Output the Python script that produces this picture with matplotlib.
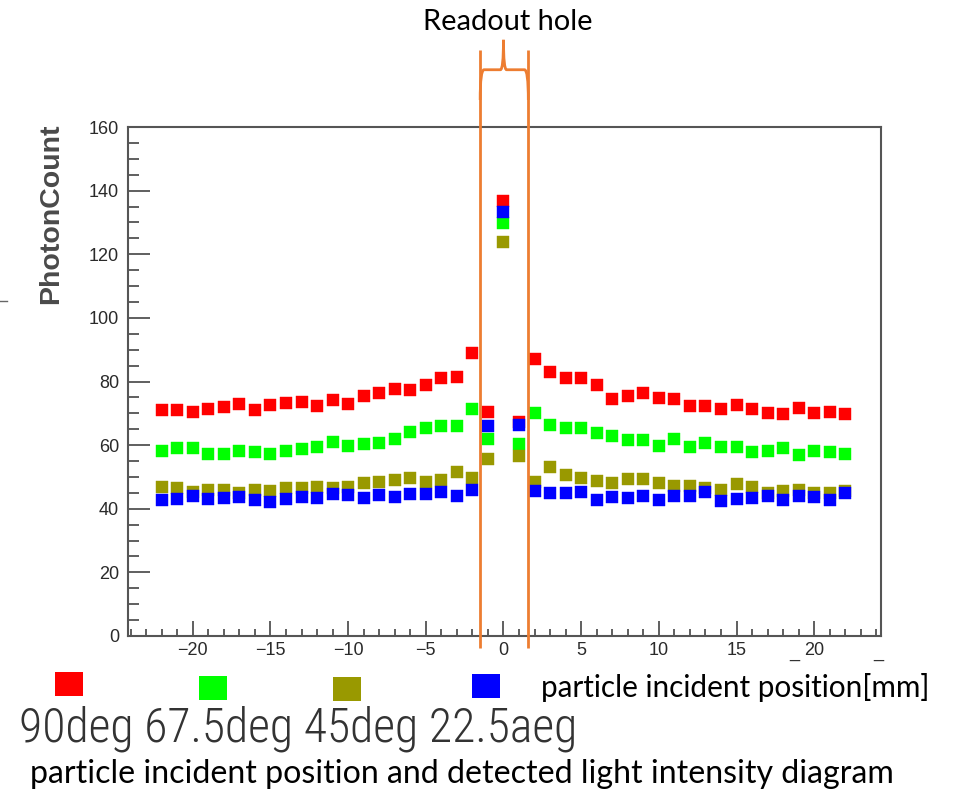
import matplotlib
matplotlib.use("Agg")
import matplotlib.pyplot as plt
from matplotlib import font_manager
from matplotlib.path import Path
from matplotlib.patches import PathPatch, Rectangle
from matplotlib.lines import Line2D
from matplotlib.ticker import MultipleLocator
from matplotlib.transforms import blended_transform_factory

# particle incident position [mm]
positions = list(range(-22, 23))

# PhotonCount for each incident angle
deg_90 = [71.0, 71.0, 70.5, 71.3, 72.1, 72.9, 71.0, 72.5, 73.1, 73.4, 72.3,
          74.2, 72.9, 75.3, 76.3, 77.6, 77.4, 78.8, 81.0, 81.3, 89.1,
          70.5, 136.7, 67.2,
          87.0, 83.1, 81.0, 81.2, 78.9, 74.4, 75.5, 76.3, 74.7, 74.4, 72.3,
          72.3, 71.3, 72.6, 71.3, 70.2, 69.8, 71.8, 70.0, 70.5, 69.7]
deg_67_5 = [58.3, 59.0, 59.0, 57.2, 57.2, 58.3, 57.8, 57.2, 58.0, 58.8, 59.5,
            61.1, 59.8, 60.4, 60.6, 61.9, 64.0, 65.3, 66.0, 66.0, 71.3,
            61.9, 129.8, 60.4,
            70.0, 66.4, 65.3, 65.3, 63.7, 62.9, 61.6, 61.6, 59.8, 61.9, 59.3,
            60.8, 59.3, 59.5, 57.8, 58.3, 59.0, 56.9, 58.3, 57.8, 57.2]
deg_45 = [46.9, 46.4, 45.3, 45.9, 45.9, 45.1, 45.9, 45.6, 46.4, 46.4, 46.9,
          46.4, 46.9, 48.0, 48.5, 49.1, 49.6, 48.5, 49.1, 51.7, 49.6,
          55.6, 123.7, 56.6,
          48.5, 53.0, 50.6, 49.6, 48.8, 48.0, 49.4, 49.4, 48.0, 47.2, 47.2,
          46.4, 45.9, 47.7, 46.9, 45.1, 45.6, 45.9, 45.1, 45.1, 45.6]
deg_22_5 = [42.8, 43.1, 44.0, 43.1, 43.3, 43.8, 42.8, 42.2, 43.1, 43.8, 43.3,
            44.7, 44.3, 43.3, 44.3, 43.6, 44.7, 44.7, 45.2, 44.0, 45.9,
            66.0, 133.4, 66.4,
            45.7, 45.1, 44.9, 45.4, 42.6, 43.6, 43.3, 44.1, 42.8, 44.1, 44.0,
            45.4, 42.5, 43.1, 43.3, 44.1, 42.8, 44.0, 43.8, 42.6, 44.9]

series = [deg_90, deg_67_5, deg_45, deg_22_5]
series_colors = ["#ff0000", "#00ff00", "#999900", "#0000ff"]
legend_text = "90deg 67.5deg 45deg 22.5aeg"

hole_edges = [-1.5, 1.6]
x_ticks = [-20, -15, -10, -5, 0, 5, 10, 15, 20]
y_ticks = [0, 20, 40, 60, 80, 100, 120, 140, 160]

W, H = 960, 797
names = {f.name for f in font_manager.fontManager.ttflist}


def pick(*cands):
    return next((c for c in cands if c in names), "DejaVu Sans")


sans = pick("Liberation Sans", "Arial")
calibri = pick("Lato", "Open Sans", "Noto Sans")
narrow = pick("Liberation Sans Narrow", "Roboto Condensed", "Liberation Sans")


def fx(px):
    return px / W


def fy(py):
    return 1 - py / H


fig = plt.figure(figsize=(W / 100, H / 100), dpi=100)
ax = fig.add_axes([fx(127.5), fy(636), (881 - 127.5) / W, (636 - 127) / H])

for vals, col in zip(series, series_colors):
    ax.plot(positions, vals, ls="none", marker="s", ms=8.6, mec=col, mfc=col,
            mew=0.3, zorder=3)

ax.set_xlim(-24.2, 24.3)
ax.set_ylim(0, 160)
ax.set_xticks(x_ticks)
ax.set_yticks(y_ticks)
ax.xaxis.set_minor_locator(MultipleLocator(1))
ax.yaxis.set_minor_locator(MultipleLocator(5))
ax.tick_params(axis="x", which="major", direction="in", length=10.8, width=1.2,
               color="#444444", pad=4, labelsize=13, labelcolor="#2a2a2a")
ax.tick_params(axis="x", which="minor", direction="in", length=5.4, width=1.2,
               color="#444444")
ax.tick_params(axis="y", which="major", direction="in", length=15.8, width=1.2,
               color="#444444", pad=6, labelsize=13, labelcolor="#2a2a2a")
ax.tick_params(axis="y", which="minor", direction="in", length=7.9, width=1.2,
               color="#444444")
for lab in ax.get_xticklabels() + ax.get_yticklabels():
    lab.set_family(sans)
for sp in ax.spines.values():
    sp.set_color("#555555")
    sp.set_linewidth(1.5)

# stray underscores near the x tick labels
xb = blended_transform_factory(ax.transData, ax.transAxes)
for xs in [18.7, 24.1]:
    ax.text(xs, -0.041, "_", transform=xb, ha="center", va="baseline",
            fontsize=13, color="#333333", family=sans)
fig.add_artist(Line2D([0, fx(7)], [fy(300.5), fy(300.5)],
                      transform=fig.transFigure, color="#666666", lw=1))

fig.text(fx(51), fy(123), "PhotonCount", rotation=90, ha="center", va="top",
         fontsize=20.5, weight="bold", color="#4a4a4a", family=sans)

# readout hole markers with a brace on top
orange = "#ed7d31"
for xe in hole_edges:
    ax.plot([xe, xe], [-3.8, 184.3], color=orange, lw=2, clip_on=False,
            zorder=4, solid_capstyle="butt")
xl, xr = hole_edges
xm = (xl + xr) / 2 - 0.05
yb, yc, yp = 168.5, 178.0, 187.4
verts = [(xl, yb), (xl, yc), (xl + 0.25, yc),
         (xm - 0.2, yc), (xm, yc), (xm, yp),
         (xm, yc), (xm + 0.2, yc),
         (xr - 0.25, yc), (xr, yc), (xr, yb)]
codes = [Path.MOVETO, Path.CURVE3, Path.CURVE3,
         Path.LINETO, Path.CURVE3, Path.CURVE3,
         Path.CURVE3, Path.CURVE3,
         Path.LINETO, Path.CURVE3, Path.CURVE3]
ax.add_patch(PathPatch(Path(verts, codes), fill=False, ec=orange, lw=2,
                       clip_on=False, zorder=4))

# legend squares
legend_boxes = [(69, 684), (213, 688), (347, 689), (486, 686)]
for (cx, cy), col in zip(legend_boxes, series_colors):
    fig.add_artist(Rectangle((fx(cx - 14), fy(cy + 12)), 28 / W, 24 / H,
                             transform=fig.transFigure, fc=col, ec="none"))

fig.canvas.draw()
renderer = fig.canvas.get_renderer()


def fit(t, width_px):
    w = t.get_window_extent(renderer).width
    t.set_fontsize(t.get_fontsize() * width_px / w)


t1 = fig.text(fx(508), fy(30), "Readout hole", ha="center", va="baseline",
              fontsize=20, family=calibri, color="black")
fit(t1, 170)
t2 = fig.text(fx(541), fy(697), "particle incident position[mm]", ha="left",
              va="baseline", fontsize=20, family=calibri, color="black")
fit(t2, 390)
t3 = fig.text(fx(19), fy(741), legend_text, ha="left", va="baseline",
              fontsize=30, family=narrow, weight="light", color="#333333")
fit(t3, 558)
t4 = fig.text(fx(30), fy(783),
              "particle incident position and detected light intensity diagram",
              ha="left", va="baseline", fontsize=20, family=calibri,
              color="black")
fit(t4, 865)

fig.savefig("out.png", dpi=100)
